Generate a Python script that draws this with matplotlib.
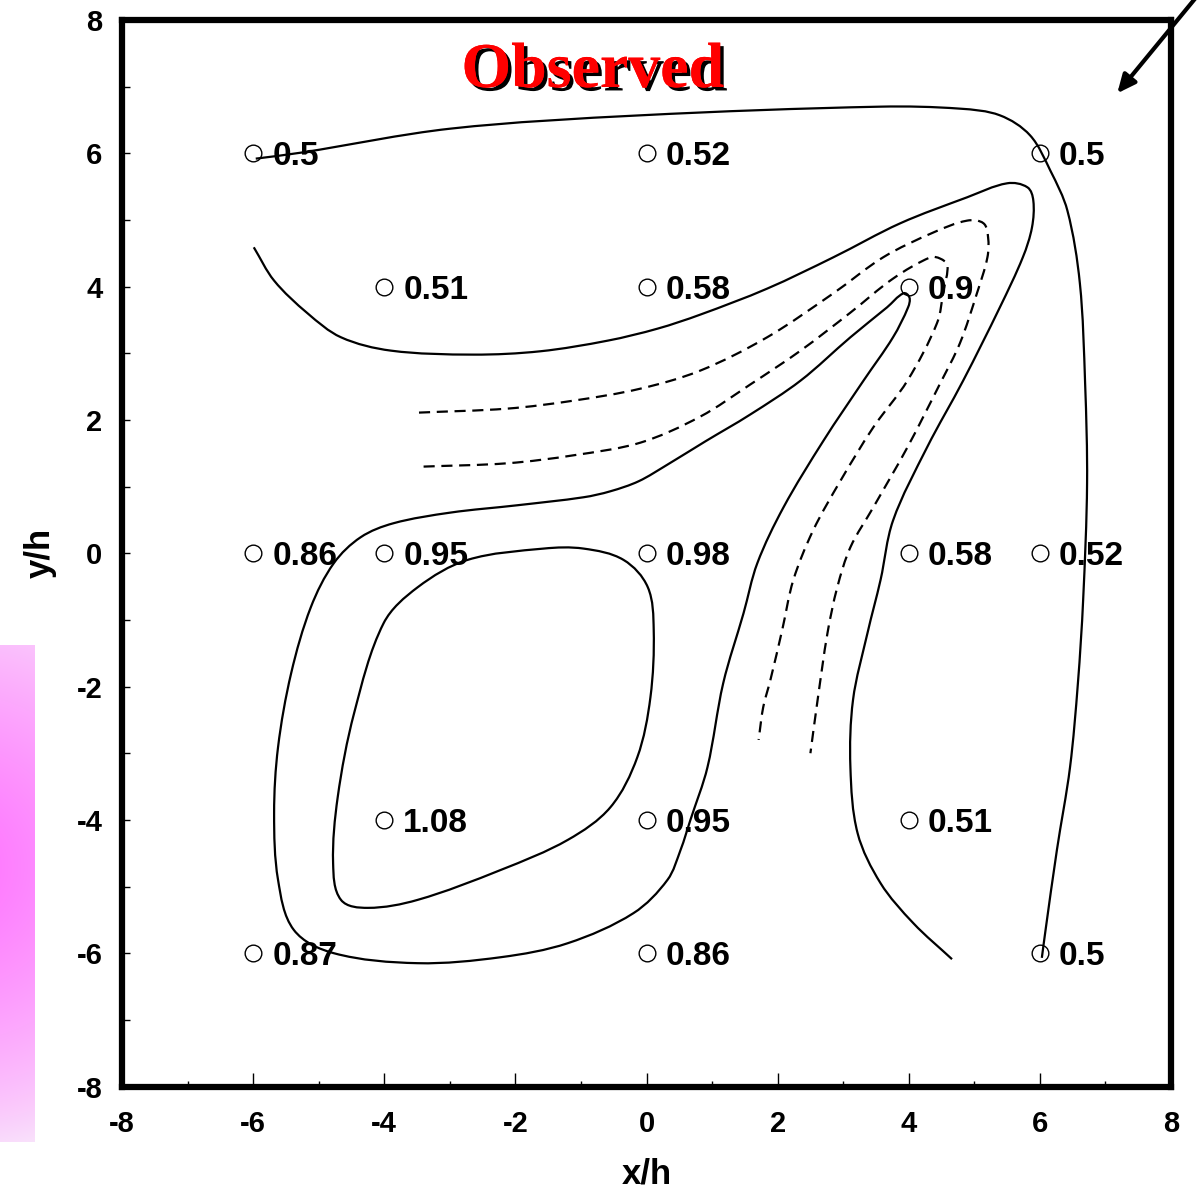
import numpy as np
import matplotlib
matplotlib.use("Agg")
import matplotlib.pyplot as plt
from matplotlib.path import Path
from matplotlib.patches import PathPatch
import matplotlib.patheffects as pe

plt.rcParams['font.family'] = ['Liberation Sans', 'DejaVu Sans']
plt.rcParams['axes.unicode_minus'] = False

# measured points (x/h, y/h) and their values
pt_x = [-6, 0, 6, -4, 0, 4, -6, -4, 0, 4, 6, -4, 0, 4, -6, 0, 6]
pt_y = [6, 6, 6, 4, 4, 4, 0, 0, 0, 0, 0, -4, -4, -4, -6, -6, -6]
pt_val = ['0.5', '0.52', '0.5', '0.51', '0.58', '0.9', '0.86', '0.95', '0.98',
          '0.58', '0.52', '1.08', '0.95', '0.51', '0.87', '0.86', '0.5']

# contour lines
outer_x = [-5.96, -5.27, -2.99, -0.09, 3.57, 4.78, 5.39, 5.85, 6.16, 6.42, 6.61, 6.69,
           6.72, 6.66, 6.58, 6.46, 6.26, 6.08, 6.03]
outer_y = [5.92, 6.01, 6.37, 6.57, 6.70, 6.67, 6.57, 6.27, 5.74, 5.14, 4.05, 2.55,
           1.05, -0.70, -1.95, -3.21, -4.45, -5.70, -6.07]

band_x = [-5.99, -5.68, -5.17, -4.66, -3.90, -2.64, -1.62, -0.59, 0.17, 0.82, 1.84, 2.85,
          3.87, 4.89, 5.50, 5.81, 5.90, 5.88, 5.74, 5.39, 4.83, 4.28, 3.76, 3.57, 3.37,
          3.15, 3.11, 3.22, 3.57, 4.07, 4.66]
band_y = [4.59, 4.09, 3.60, 3.24, 3.04, 2.98, 3.03, 3.19, 3.37, 3.58, 3.97, 4.44,
          4.95, 5.34, 5.55, 5.49, 5.29, 4.89, 4.44, 3.69, 2.59, 1.59, 0.49, -0.40, -1.20,
          -2.20, -3.21, -4.20, -4.95, -5.55, -6.09]

loop_x = [4.01, 3.99, 3.76, 3.31, 2.70, 2.09, 1.69, 1.48, 1.17, 0.93, 0.67, 0.52, 0.32,
          -0.20, -1.20, -2.22, -3.49, -4.77, -5.38, -5.62, -5.68, -5.62, -5.42, -5.12,
          -4.77, -4.36, -3.86, -2.99, -1.97, -0.96, -0.55, -0.12, 0.32, 0.90, 1.58, 2.35,
          3.11, 3.67, 3.92, 4.01]
loop_y = [3.84, 3.69, 3.24, 2.59, 1.69, 0.69, -0.15, -0.90, -1.95, -3.21, -4.00, -4.45,
          -4.90, -5.40, -5.85, -6.06, -6.15, -6.00, -5.65, -4.90, -3.90, -2.91, -1.80,
          -0.81, -0.15, 0.24, 0.45, 0.61, 0.72, 0.84, 0.93, 1.08, 1.33, 1.68, 2.08, 2.59,
          3.24, 3.69, 3.90, 3.84]

core_x = [-1.57, -0.96, -0.35, 0.02, 0.11, 0.06, -0.14, -0.55, -1.20, -2.22, -3.49,
          -4.25, -4.66, -4.78, -4.71, -4.46, -4.01, -3.49, -2.73, -1.57]
core_y = [0.07, 0.07, -0.10, -0.51, -1.15, -2.16, -3.06, -3.81, -4.30, -4.75, -5.20,
          -5.32, -5.20, -4.65, -3.66, -2.40, -1.05, -0.51, -0.10, 0.07]

dash1_x = [-3.47, -2.12, -1.11, -0.09, 0.82, 1.84, 2.85, 3.61, 4.37, 4.89, 5.14,
           5.21, 5.20, 5.04, 4.78, 4.48, 3.98, 3.46, 3.11, 2.91, 2.76, 2.61, 2.50]
dash1_y = [2.11, 2.17, 2.29, 2.47, 2.74, 3.24, 3.90, 4.44, 4.81, 4.99, 4.95,
           4.74, 4.44, 3.90, 3.15, 2.55, 1.59, 0.69, 0.09, -0.51, -1.20, -2.20, -3.00]

dash2_x = [-3.40, -2.12, -1.11, -0.09, 0.82, 1.58, 2.35, 3.11, 3.76, 4.33, 4.48, 4.59,
           4.53, 4.43, 3.98, 3.46, 2.96, 2.54, 2.24, 2.07, 1.89, 1.78, 1.71]
dash2_y = [1.30, 1.35, 1.47, 1.66, 2.05, 2.53, 3.04, 3.61, 4.12, 4.44, 4.42, 4.32,
           3.94, 3.45, 2.59, 1.89, 1.09, 0.34, -0.40, -1.15, -1.90, -2.31, -2.80]


def smooth_path(xs, ys, closed=False):
    # smooth curve through the read points, drawn as cubic Bezier segments
    pts = np.column_stack([xs, ys]).astype(float)
    n = len(pts)
    tang = np.zeros_like(pts)
    for i in range(n):
        if closed and (i == 0 or i == n - 1):
            d = pts[1] - pts[-2]
        elif i == 0:
            d = pts[1] - pts[0]
        elif i == n - 1:
            d = pts[-1] - pts[-2]
        else:
            d = pts[i + 1] - pts[i - 1]
        tang[i] = d / np.hypot(*d)
    verts = [pts[0]]
    codes = [Path.MOVETO]
    for i in range(n - 1):
        seg = np.hypot(*(pts[i + 1] - pts[i])) / 3
        verts += [pts[i] + tang[i] * seg, pts[i + 1] - tang[i + 1] * seg, pts[i + 1]]
        codes += [Path.CURVE4] * 3
    return Path(verts, codes)


fig = plt.figure(figsize=(11.98, 11.95), dpi=100)

# pink blob at the left edge
bg = fig.add_axes([0, (1195 - 1142) / 1195, 35 / 1198, 497 / 1195])
gx, gy = np.meshgrid(np.linspace(0, 35, 60), np.linspace(0, 497, 400))
r = np.hypot(gx + 50, gy - 275) / 310
a = np.clip(1 - r, 0, 1) ** 0.6
img = np.ones(gx.shape + (3,))
img[..., 1] = 1 - 0.56 * a
img[..., 0] = 1 - 0.03 * (1 - a)
img[..., 2] = 1 - 0.02 * (1 - a)
bg.imshow(np.clip(img, 0, 1), origin='lower', aspect='auto')
bg.axis('off')

ax = fig.add_axes([122 / 1198, (1195 - 1086.5) / 1195, 1049 / 1198, 1066.5 / 1195])
ax.set_xlim(-8, 8)
ax.set_ylim(-8, 8)

for xs, ys, closed, ls in [(outer_x, outer_y, False, '-'), (band_x, band_y, False, '-'),
                           (loop_x, loop_y, True, '-'), (core_x, core_y, True, '-'),
                           (dash1_x, dash1_y, False, (0, (5, 3))),
                           (dash2_x, dash2_y, False, (0, (5, 3)))]:
    ax.add_patch(PathPatch(smooth_path(xs, ys, closed), fill=False, lw=1.6,
                           ls=ls, color='black', zorder=5))

ax.plot(pt_x, pt_y, 'o', mfc='white', mec='black', ms=12, mew=1.0, zorder=3)
for x, y, v in zip(pt_x, pt_y, pt_val):
    ax.text(x + 0.29, y, v, fontsize=24, fontweight='bold', va='center_baseline',
            ha='left', zorder=4)

title = ax.text(-0.82, 7.22, 'Observed', fontsize=46, fontweight='bold', color='red',
                family='Liberation Serif', ha='center', va='center', zorder=6)
title.set_path_effects([pe.withSimplePatchShadow(offset=(2.5, -2.5), shadow_rgbFace='black',
                                                 alpha=1.0), pe.Normal()])

ax.annotate('', xy=(7.18, 6.90), xytext=(8.45, 8.42), annotation_clip=False,
            arrowprops=dict(arrowstyle='-|>,head_length=1.1,head_width=0.5', lw=3,
                            color='black', shrinkA=0, shrinkB=0))

ax.set_xticks(np.arange(-8, 9, 2))
ax.set_yticks(np.arange(-8, 9, 2))
ax.set_xticks(np.arange(-7, 8, 2), minor=True)
ax.set_yticks(np.arange(-7, 8, 2), minor=True)
ax.tick_params(axis='x', which='major', direction='in', length=10, width=1, pad=17,
               labelsize=21, top=False)
ax.tick_params(axis='x', which='minor', direction='in', length=4, width=1, top=False)
ax.tick_params(axis='y', which='both', direction='in', length=6, width=1, pad=14,
               labelsize=21, right=False)
for lab in ax.get_xticklabels() + ax.get_yticklabels():
    lab.set_fontweight('bold')
for s in ax.spines.values():
    s.set_linewidth(4.5)

ax.set_xlabel('x/h', fontsize=25, fontweight='bold', labelpad=14)
ax.set_ylabel('y/h', fontsize=25, fontweight='bold', labelpad=14)

fig.savefig('out.png', dpi=100)
